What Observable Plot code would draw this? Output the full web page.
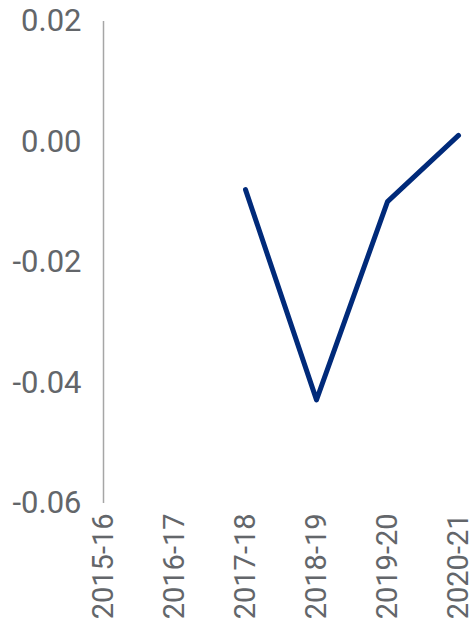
<!DOCTYPE html>
<html>
<head>
<meta charset="utf-8">
<script src="https://cdn.jsdelivr.net/npm/d3@7"></script>
<script src="https://cdn.jsdelivr.net/npm/@observablehq/plot@0.6"></script>
<style>
  html, body { margin: 0; padding: 0; background: #fff; }
</style>
</head>
<body>
<div id="chart"></div>
<script>
const years = ["2015-16", "2016-17", "2017-18", "2018-19", "2019-20", "2020-21"];
const lineYears = ["2017-18", "2018-19", "2019-20", "2020-21"];
const lineValues = [-0.0079, -0.0428, -0.0099, 0.0011];
const yTicks = [-0.06, -0.04, -0.02, 0.00, 0.02];

const data = lineYears.map((y, i) => ({year: y, value: lineValues[i]}));

const chart = Plot.plot({
  width: 474,
  height: 629,
  marginTop: 21,
  marginBottom: 126,
  marginLeft: 102,
  marginRight: 16,
  style: {fontFamily: "Roboto, 'Open Sans', sans-serif", fontSize: "29px", color: "#63666a", background: "#fff"},
  x: {type: "point", domain: years, padding: 0, label: null},
  y: {domain: [-0.06, 0.02], label: null},
  marks: [
    Plot.axisX({tickSize: 0, tickPadding: 10, tickRotate: -90, fontSize: 29, label: null}),
    Plot.axisY(yTicks, {tickSize: 0, tickPadding: 21, tickFormat: d => d.toFixed(2), fontSize: 31, label: null}),
    Plot.ruleX([years[0]], {y1: -0.06, y2: 0.02, stroke: "#a6a6a6", strokeWidth: 1.5}),
    Plot.line(data, {x: "year", y: "value", stroke: "#002a7a", strokeWidth: 5, strokeLinecap: "round", strokeLinejoin: "round"})
  ]
});
document.getElementById("chart").appendChild(chart);
</script>
</body>
</html>
